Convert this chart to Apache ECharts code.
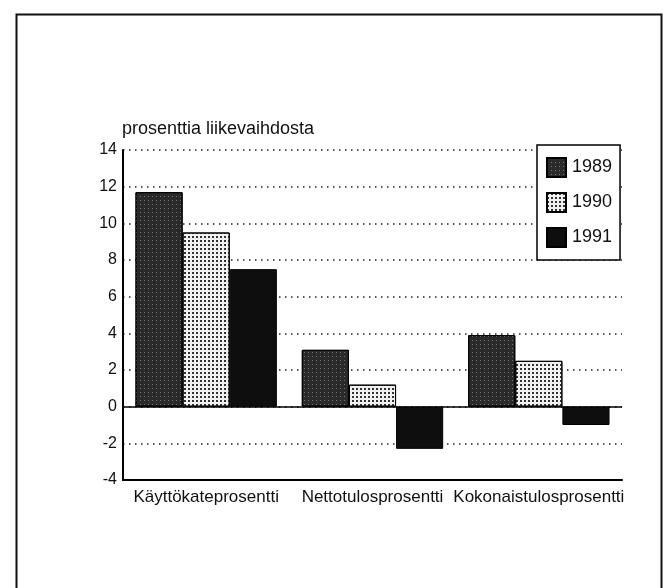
<!DOCTYPE html>
<html>
<head>
<meta charset="utf-8">
<script src="https://cdn.jsdelivr.net/npm/echarts@6/dist/echarts.min.js"></script>
<style>
html,body{margin:0;padding:0;background:#fff;}
#chart{width:664px;height:588px;}
</style>
</head>
<body>
<div id="chart"></div>
<script>
var categories = ['Käyttökateprosentti', 'Nettotulosprosentti', 'Kokonaistulosprosentti'];
var seriesNames = ['1989', '1990', '1991'];
var values1989 = [11.7, 3.1, 3.9];
var values1990 = [9.5, 1.2, 2.5];
var values1991 = [7.5, -2.3, -1.0];
var yMin = -4, yMax = 14, yStep = 2;
var yTitle = 'prosenttia liikevaihdosta';

var font = 'Liberation Sans, Arial, Helvetica, sans-serif';
var styles = [
  {color: '#2a2a2a', decal: {symbol: 'rect', symbolSize: 1, color: 'rgba(255,255,255,0.35)', dashArrayX: [1, 3], dashArrayY: [1, 3]}},
  {color: '#f0f0f0', decal: {symbol: 'rect', symbolSize: 1, color: '#333', dashArrayX: [1.5, 2], dashArrayY: [1.5, 2]}},
  {color: '#0e0e0e', decal: 'none'}
];
var allValues = [values1989, values1990, values1991];

var series = seriesNames.map(function (name, i) {
  var s = {
    name: name,
    type: 'bar',
    data: allValues[i],
    barGap: '0%',
    barCategoryGap: '15%',
    itemStyle: {color: styles[i].color, borderColor: '#000', borderWidth: 1},
    emphasis: {disabled: true}
  };
  if (styles[i].decal !== 'none') s.itemStyle.decal = styles[i].decal;
  return s;
});
series[0].markLine = {
  silent: true,
  symbol: 'none',
  label: {show: false},
  lineStyle: {color: '#000', width: 1.5, type: 'solid'},
  data: [{yAxis: 0}],
  animation: false
};

var chart = echarts.init(document.getElementById('chart'), null, {renderer: 'canvas'});
chart.setOption({
  animation: false,
  backgroundColor: '#fff',
  textStyle: {fontFamily: font},
  graphic: [
    {type: 'rect', left: 14, top: 12, shape: {width: 645, height: 600}, style: {fill: 'none', stroke: '#111', lineWidth: 2}, z: 0},
    {type: 'text', left: 122, top: 120, style: {text: yTitle, font: '18px ' + font, fill: '#111'}}
  ],
  legend: {
    orient: 'vertical',
    left: 537,
    top: 145,
    padding: [12, 8, 12, 9],
    itemWidth: 19,
    itemHeight: 19,
    itemGap: 14,
    borderColor: '#000',
    borderWidth: 1.5,
    backgroundColor: '#fff',
    icon: 'rect',
    data: seriesNames,
    textStyle: {fontSize: 18, color: '#111', fontFamily: font, padding: [0, 0, 0, 1]},
    selectedMode: false
  },
  grid: {left: 123, top: 150, right: 42, bottom: 108, containLabel: false},
  xAxis: {
    type: 'category',
    data: categories,
    axisLine: {onZero: false, lineStyle: {color: '#000', width: 2}},
    axisTick: {show: false},
    axisLabel: {color: '#111', fontSize: 17, margin: 9, interval: 0, fontFamily: font},
    splitLine: {show: false}
  },
  yAxis: {
    type: 'value',
    min: yMin,
    max: yMax,
    interval: yStep,
    axisLine: {show: true, lineStyle: {color: '#000', width: 2}},
    axisTick: {show: false},
    axisLabel: {color: '#111', fontSize: 16, margin: 6, fontFamily: font},
    splitLine: {show: true, lineStyle: {color: '#222', width: 1.5, type: [1.5, 4.5]}}
  },
  series: series
});
</script>
</body>
</html>
